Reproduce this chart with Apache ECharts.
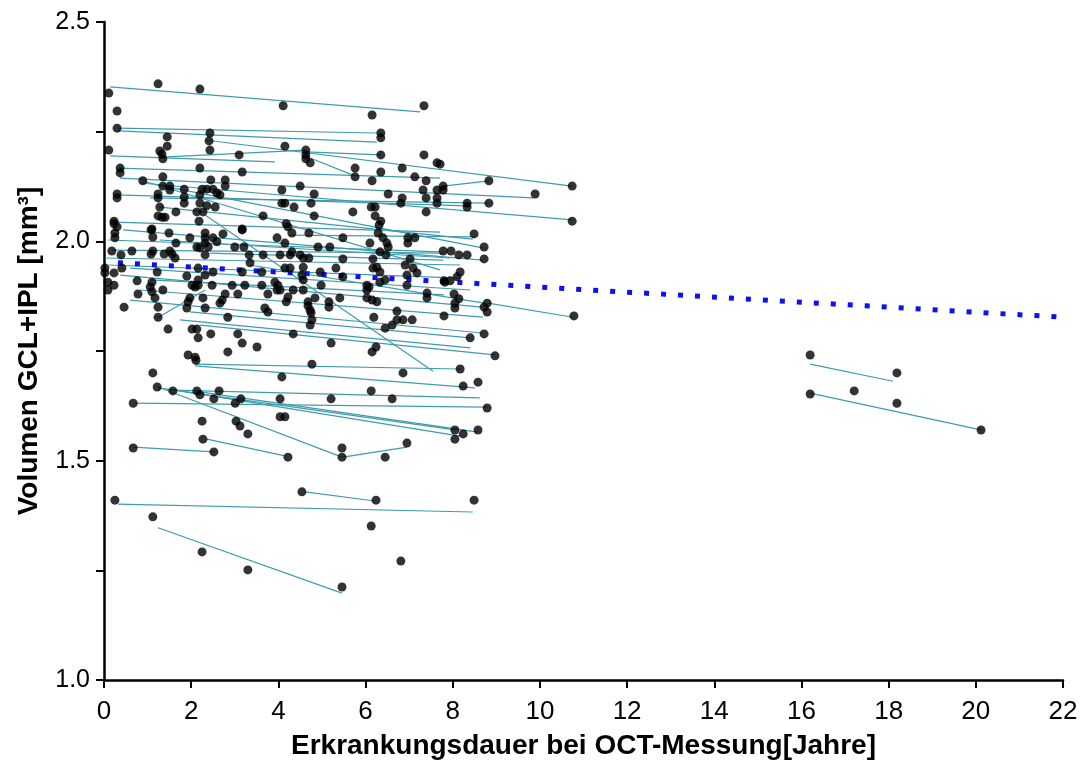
<!DOCTYPE html>
<html>
<head>
<meta charset="utf-8">
<script src="https://cdn.jsdelivr.net/npm/echarts@6/dist/echarts.min.js"></script>
<style>
  html, body { margin: 0; padding: 0; background: #fff; }
  #div1 { width: 1084px; height: 760px; }
</style>
</head>
<body>
<div id="div1"></div>
<script>
// Messpunkte: [Erkrankungsdauer (Jahre), Volumen GCL+IPL (mm3)]
var points = [
  [1.24,2.359],[2.20,2.347],[0.11,2.338],[0.30,2.297],[0.30,2.258],[2.43,2.247],[1.45,2.238],[2.41,2.229],
  [1.45,2.217],[0.11,2.208],[2.43,2.208],[1.28,2.206],[1.33,2.199],[1.35,2.188],[3.10,2.197],[2.20,2.167],
  [0.37,2.167],[0.37,2.156],[3.17,2.158],[0.89,2.138],[1.35,2.147],[2.45,2.140],[2.78,2.140],[2.78,2.126],
  [1.35,2.126],[1.51,2.126],[1.51,2.117],[1.84,2.119],[2.25,2.119],[2.36,2.119],[2.50,2.119],[2.59,2.110],
  [2.66,2.106],[0.30,2.108],[0.30,2.099],[1.24,2.108],[1.24,2.099],[1.84,2.101],[1.84,2.087],[2.20,2.106],
  [2.20,2.087],[1.28,2.078],[1.65,2.067],[2.13,2.067],[2.27,2.067],[2.36,2.081],[2.55,2.078],[1.24,2.058],
  [1.33,2.055],[1.40,2.055],[2.18,2.046],[3.65,2.058],[0.23,2.046],[0.23,2.040],[0.30,2.033],[1.10,2.028],
  [3.17,2.028],
  [4.11,2.309],[7.34,2.309],[6.15,2.288],[6.35,2.247],[6.35,2.236],[4.15,2.217],[4.63,2.208],[4.63,2.197],
  [4.63,2.188],[4.73,2.179],[6.35,2.197],[7.34,2.197],[7.64,2.179],[5.76,2.167],[5.76,2.147],[6.35,2.158],
  [6.15,2.138],[6.84,2.167],[7.13,2.147],[7.39,2.138],[4.08,2.117],[4.50,2.126],[4.82,2.108],[4.75,2.087],
  [4.08,2.087],[4.15,2.087],[4.36,2.078],[4.82,2.058],[5.71,2.067],[6.13,2.078],[6.22,2.078],[6.22,2.058],
  [6.52,2.108],[6.84,2.099],[6.81,2.087],[7.32,2.117],[7.39,2.099],[7.64,2.117],[7.78,2.126],[7.78,2.117],
  [7.64,2.099],[7.64,2.087],[7.39,2.067],[6.35,2.046],[6.31,2.037],[4.18,2.040],[4.22,2.033],
  [7.71,2.176],[8.83,2.138],[10.74,2.126],[9.89,2.108],[8.33,2.087],[8.33,2.078],[8.83,2.087],[10.74,2.046],
  [0.25,2.019],[0.25,2.008],[1.08,2.026],[1.12,2.010],[1.49,2.019],[1.65,1.996],[1.97,2.008],[2.32,2.019],
  [2.32,2.008],[2.32,1.996],[2.50,2.008],[2.59,1.999],[2.73,2.017],[3.17,2.026],[0.18,1.978],[0.39,1.969],
  [0.64,1.978],[1.12,1.978],[1.08,1.971],[1.38,1.971],[1.51,1.978],[1.56,1.971],[1.63,1.962],[2.13,1.987],
  [2.20,1.985],[2.39,1.987],[2.32,1.969],[3.00,1.987],[3.21,1.987],[3.33,1.969],[3.65,1.969],[0.02,1.939],
  [0.02,1.928],[0.23,1.928],[0.41,1.939],[1.22,1.930],[1.90,1.921],[2.16,1.939],[2.32,1.923],[2.50,1.930],
  [3.17,1.930],[3.35,1.951],[3.62,1.930],[0.09,1.907],[0.09,1.889],[0.23,1.900],[0.76,1.910],[1.10,1.907],
  [1.06,1.896],[1.10,1.885],[1.35,1.889],[2.16,1.912],[2.16,1.900],[2.09,1.896],[2.02,1.900],[2.48,1.900],
  [2.94,1.900],[3.23,1.900],[3.62,1.900],[0.78,1.880],[1.17,1.871],[1.97,1.871],[1.93,1.862],[1.90,1.848],
  [2.27,1.871],[2.71,1.866],[2.66,1.859],[2.78,1.880],[3.07,1.880],[3.76,1.880],[0.46,1.850],[1.24,1.850],
  [1.24,1.827],[2.32,1.848],[2.84,1.827],[3.69,1.848],[3.76,1.839],[1.47,1.800],[2.02,1.800],[2.13,1.800],
  [2.16,1.780],[2.45,1.789],[3.07,1.789],[3.17,1.768],[3.51,1.759],[1.93,1.741],[2.09,1.736],[2.84,1.748],
  [4.31,2.019],[4.70,2.019],[5.48,2.008],[6.29,2.019],[6.40,2.008],[6.49,1.996],[6.52,1.987],[6.97,2.008],
  [7.13,2.008],[6.97,1.996],[3.97,2.008],[4.15,1.996],[4.91,1.987],[5.18,1.987],[6.10,1.996],[6.33,1.976],
  [6.47,1.969],[4.31,1.976],[4.27,1.969],[4.50,1.969],[4.57,1.962],[4.70,1.962],[4.04,1.969],[5.48,1.960],
  [6.17,1.960],[7.02,1.960],[6.91,1.946],[7.78,1.978],[4.15,1.939],[4.27,1.939],[4.57,1.941],[4.54,1.923],
  [4.57,1.912],[4.96,1.930],[5.32,1.939],[5.48,1.919],[6.17,1.939],[6.26,1.941],[6.33,1.930],[6.45,1.912],
  [6.33,1.907],[6.95,1.923],[7.09,1.939],[7.18,1.928],[6.95,1.900],[7.82,1.907],[3.92,1.907],[3.99,1.900],
  [3.97,1.889],[4.04,1.889],[4.34,1.889],[4.57,1.889],[4.98,1.900],[6.03,1.900],[6.03,1.889],[6.08,1.896],
  [4.22,1.873],[4.18,1.862],[4.68,1.862],[4.68,1.853],[4.73,1.843],[4.75,1.837],[4.84,1.871],[5.16,1.862],
  [5.16,1.850],[5.41,1.871],[6.03,1.871],[6.15,1.866],[6.26,1.862],[7.41,1.882],[7.41,1.871],[6.72,1.841],
  [6.19,1.827],[4.77,1.821],[4.73,1.809],[6.72,1.821],[6.61,1.809],[6.86,1.821],[7.07,1.821],[6.45,1.802],
  [4.34,1.789],[5.21,1.768],[6.24,1.759],[6.15,1.748],
  [8.49,2.017],[8.72,1.987],[8.72,1.960],[7.96,1.978],[8.14,1.969],[8.33,1.969],[8.17,1.930],[8.10,1.919],
  [7.80,1.910],[7.94,1.910],[8.03,1.880],[8.14,1.869],[8.05,1.859],[8.05,1.848],[8.79,1.859],[8.72,1.850],
  [8.79,1.839],[7.80,1.830],[10.78,1.830],[8.72,1.789],[8.40,1.780],[8.97,1.739],
  [2.11,1.729],[1.12,1.700],[1.22,1.668],[1.58,1.659],[2.13,1.659],[2.20,1.650],[2.64,1.659],[2.52,1.641],
  [0.67,1.631],[3.01,1.631],[3.14,1.641],[4.08,1.691],[4.04,1.641],[4.04,1.600],[4.15,1.600],[2.25,1.590],
  [3.03,1.590],[3.12,1.579],[3.30,1.561],[2.27,1.549],[0.67,1.529],[2.52,1.520],[4.22,1.508],[0.25,1.410],
  [1.12,1.372],[2.25,1.292],[3.30,1.251],
  [4.77,1.720],[6.86,1.700],[8.17,1.709],[8.24,1.670],[8.58,1.679],[6.13,1.659],[5.21,1.641],[6.61,1.641],
  [8.79,1.620],[8.05,1.570],[8.24,1.561],[8.58,1.570],[8.05,1.549],[5.46,1.529],[5.46,1.508],[6.45,1.508],
  [6.95,1.540],[4.54,1.429],[6.24,1.410],[8.49,1.410],[6.13,1.351],[6.81,1.271],[5.46,1.212],
  [16.20,1.741],[18.19,1.700],[16.20,1.652],[17.21,1.659],[18.19,1.631],[20.12,1.570]
];

// individuelle Verläufe je Patient: [x1, y1, x2, y2]
var slopes = [
  [0.14,2.352,7.25,2.295],[0.32,2.258,6.26,2.247],[0.32,2.252,6.26,2.226],[0.14,2.195,3.92,2.181],
  [1.33,2.192,4.63,2.208],[4.63,2.204,6.35,2.197],[2.32,2.231,10.74,2.126],[4.73,2.190,5.71,2.151],
  [0.32,2.167,7.71,2.144],[7.78,2.126,8.83,2.138],[0.37,2.144,9.84,2.099],[0.83,2.133,10.74,2.049],
  [0.30,2.106,8.33,2.081],[1.06,2.099,8.83,2.087],[0.23,2.044,7.71,2.021],[1.28,2.078,8.46,2.005],
  [1.35,2.126,8.69,1.985],[0.44,2.026,8.69,1.957],[0.18,1.980,7.80,1.973],[0.09,1.946,8.17,1.916],
  [1.06,1.912,7.80,1.878],[0.37,1.923,8.69,1.850],[0.83,1.889,8.69,1.827],[8.81,1.859,10.76,1.827],
  [0.60,1.866,8.69,1.791],[1.97,1.839,8.40,1.780],[1.74,1.821,8.40,1.757],[2.20,1.809,8.97,1.741],
  [2.32,2.060,7.55,1.704],[1.22,1.825,2.32,1.889],[2.09,1.720,8.17,1.709],[2.09,1.716,8.51,1.666],
  [1.24,1.668,5.46,1.508],[1.24,1.666,8.05,1.570],[1.63,1.661,8.17,1.556],[0.71,1.631,8.79,1.622],
  [2.20,1.657,8.58,1.565],[0.67,1.531,2.52,1.520],[2.36,1.549,4.15,1.511],[4.61,1.429,6.22,1.408],
  [0.32,1.401,8.46,1.383],[1.24,1.347,5.46,1.198],[5.48,1.508,6.95,1.531],[16.20,1.720,18.10,1.681],
  [16.20,1.654,20.12,1.570],[1.58,1.661,8.62,1.643],[0.09,2.003,7.71,1.976],[0.02,1.962,8.17,1.946],
  [1.28,2.003,7.94,1.962],[0.60,1.939,8.40,1.889],[3.35,1.946,8.72,1.859],[2.43,1.973,7.78,1.957],
  [4.27,2.014,8.49,2.010],[0.89,2.138,7.71,1.935]
];

// Gesamttrend
var trendLine = [[0.32, 1.951], [22, 1.827]];

var xTicks = { min: 0, max: 22, interval: 2 };
var yTicks = { min: 1.0, max: 2.5, interval: 0.25 };

var chart = echarts.init(document.getElementById('div1'));
var option = {
  backgroundColor: '#fff',
  animation: false,
  grid: { left: 104, right: 21, top: 22, bottom: 80, outerBoundsMode: 'none' },
  xAxis: {
    type: 'value',
    min: xTicks.min, max: xTicks.max, interval: xTicks.interval,
    name: 'Erkrankungsdauer bei OCT-Messung[Jahre]',
    nameLocation: 'middle',
    nameGap: 52,
    nameTextStyle: { fontFamily: 'Liberation Sans', fontWeight: 'bold', fontSize: 28, color: '#000' },
    axisLine: { onZero: false, lineStyle: { color: '#000', width: 2.5 } },
    axisTick: { length: 8, lineStyle: { color: '#000', width: 2 } },
    axisLabel: { margin: 19, fontFamily: 'Liberation Sans', fontSize: 26, color: '#000' },
    splitLine: { show: false }
  },
  yAxis: {
    type: 'value',
    min: yTicks.min, max: yTicks.max, interval: yTicks.interval,
    name: 'Volumen GCL+IPL [mm³]',
    nameLocation: 'middle',
    nameGap: 61,
    nameTextStyle: { fontFamily: 'Liberation Sans', fontWeight: 'bold', fontSize: 28, color: '#000' },
    axisLine: { onZero: false, lineStyle: { color: '#000', width: 2.5 } },
    axisTick: { length: 8, lineStyle: { color: '#000', width: 2 } },
    axisLabel: {
      margin: 14, fontFamily: 'Liberation Sans', fontSize: 25, color: '#000',
      formatter: function (v) {
        return Math.abs(v * 2 - Math.round(v * 2)) < 1e-6 ? v.toFixed(1) : '';
      }
    },
    splitLine: { show: false }
  },
  series: [
    {
      type: 'lines',
      coordinateSystem: 'cartesian2d',
      z: 2,
      lineStyle: { color: '#3f9cae', width: 1.2, opacity: 1 },
      data: slopes.map(function (s) { return { coords: [[s[0], s[1]], [s[2], s[3]]] }; })
    },
    {
      type: 'line',
      z: 3,
      data: trendLine,
      symbol: 'none',
      lineStyle: { color: '#1010ee', width: 5, type: [5, 12], cap: 'butt' }
    },
    {
      type: 'scatter',
      z: 4,
      data: points,
      symbol: 'circle',
      symbolSize: 9,
      itemStyle: { color: '#000' }
    }
  ]
};
chart.setOption(option);
</script>
</body>
</html>
